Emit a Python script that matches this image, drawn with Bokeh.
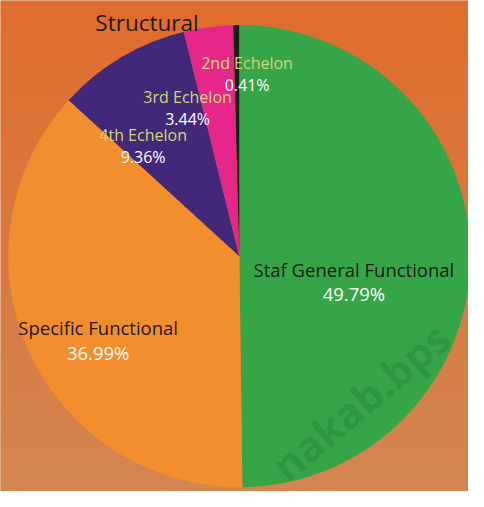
import numpy as np
from bokeh.plotting import figure
from bokeh.models import Range1d, ColumnDataSource
from bokeh.core.properties import value
from bokeh.embed import file_html
from bokeh.resources import INLINE

# ---------------- data ----------------
title_text = "Structural"
categories = ["Staf General Functional", "Specific Functional", "4th Echelon", "3rd Echelon", "2nd Echelon"]
shares = [49.79, 36.99, 9.36, 3.44, 0.41]
pct_labels = ["49.79%", "36.99%", "9.36%", "3.44%", "0.41%"]
watermark = "nakab.bps"

# ---------------- styles / layout ----------------
colors = ["#36A548", "#F28E2D", "#43287A", "#E7268A", "#1B1A1A"]
name_colors = ["#1E1A17", "#1E1A17", "#D3D57A", "#D3D57A", "#D3D57A"]
name_sizes = ["18.5px", "18.5px", "16px", "16px", "16px"]
FONT = "Open Sans"

W, H = 484, 507            # canvas units (top-left origin converted below)
CX, CY_TOP, R = 247, 264, 239

def Y(v):
    return H - v

# label anchors: (center x, name baseline, pct baseline) measured from top
label_pos = [
    (365.5, 278, 303),
    (101, 338, 363),
    (147.5, 139, 162),
    (193.5, 100, 122),
    (255, 65, 87),
]

# ---------------- wedges ----------------
fr = np.array(shares) / 100.0
cum = np.cumsum(fr)
prev = np.concatenate([[0], cum[:-1]])
start = np.pi / 2 - 2 * np.pi * prev
end = np.pi / 2 - 2 * np.pi * cum

src = ColumnDataSource(dict(cat=categories, share=shares, start=start, end=end, color=colors))

p = figure(width=468, height=491, output_backend="svg", toolbar_location=None,
           x_range=Range1d(0, W), y_range=Range1d(0, H), min_border=0)
p.axis.visible = False
p.grid.visible = False
p.outline_line_color = None
p.background_fill_color = "#DA7A40"
p.border_fill_color = "#DA7A40"

# background vertical gradient
ny = 200
t = np.linspace(0, 1, ny)[:, None]
top = np.array([224, 109, 45], dtype=float)
bot = np.array([211, 134, 82], dtype=float)
rgb = bot + (top - bot) * t
img = np.empty((ny, 2), dtype=np.uint32)
view = img.view(dtype=np.uint8).reshape((ny, 2, 4))
view[:, :, 0] = rgb[:, 0:1].astype(np.uint8)
view[:, :, 1] = rgb[:, 1:2].astype(np.uint8)
view[:, :, 2] = rgb[:, 2:3].astype(np.uint8)
view[:, :, 3] = 255
p.image_rgba(image=[img], x=0, y=0, dw=W, dh=H)

p.wedge(x=CX, y=Y(CY_TOP), radius=R, start_angle="start", end_angle="end",
        direction="clock", fill_color="color", line_color=None, source=src)

# labels
lsrc = ColumnDataSource(dict(
    x=[lp[0] for lp in label_pos],
    yn=[Y(lp[1]) for lp in label_pos],
    yp=[Y(lp[2]) for lp in label_pos],
    name=categories, pct=pct_labels,
    ncol=name_colors, nsize=name_sizes,
))
p.text(x="x", y="yn", text="name", text_color="ncol", text_font_size="nsize",
       text_font=value(FONT), text_align="center", text_baseline="alphabetic", source=lsrc)
p.text(x="x", y="yp", text="pct", text_color="white", text_font_size="nsize",
       text_font=value(FONT), text_align="center", text_baseline="alphabetic", source=lsrc)

# title
p.text(x=[151.5], y=[Y(23)], text=[title_text], text_color="#1E1A17", text_font_size="22.5px",
       text_font=value(FONT), text_align="center", text_baseline="alphabetic")

# watermark (kept fully inside the canvas)
p.text(x=[286], y=[Y(486)], text=[watermark], angle=0.70, text_color="black", text_alpha=0.11,
       text_font_size="42px", text_font_style="bold", text_font=value(FONT),
       text_align="left", text_baseline="alphabetic")

open("out.html", "w").write(file_html(p, INLINE))
